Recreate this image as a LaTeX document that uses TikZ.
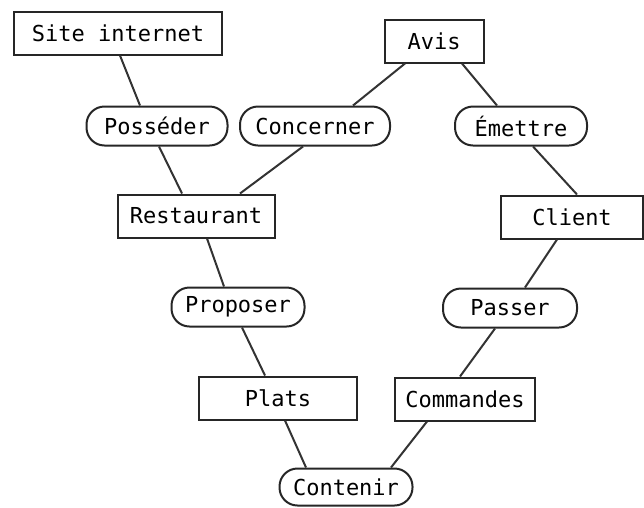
\documentclass[tikz,border=0pt]{standalone}
\usepackage{fontspec}
\setmonofont{DejaVu Sans Mono}
\usepackage{tikz}
\usetikzlibrary{positioning}

\begin{document}
\begin{tikzpicture}[
    x=1pt, y=-1pt,
    every node/.style={font=\ttfamily\fontsize{22}{26}\selectfont, inner sep=0pt},
    entityBox/.style={rectangle, draw=black!85, line width=2pt, minimum height=43pt},
    relationBox/.style={rectangle, rounded corners=18pt, draw=black!85, line width=2pt, minimum height=39pt},
    link/.style={draw=black!80, line width=2pt}
]
    \useasboundingbox (0,0) rectangle (644,507);

    % Entities
    \node[entityBox, minimum width=208pt] (site) at (118,33) {Site internet};
    \node[entityBox, minimum width=99pt] (avis) at (434,41) {Avis};
    \node[entityBox, minimum width=157pt] (restaurant) at (196,216) {Restaurant};
    \node[entityBox, minimum width=142pt] (client) at (572,217) {Client};
    \node[entityBox, minimum width=158pt] (plats) at (278,398) {Plats};
    \node[entityBox, minimum width=140pt] (commandes) at (465,399) {Commandes};

    % Relations
    \node[relationBox, minimum width=141pt] (posseder) at (157,126) {Posséder};
    \node[relationBox, minimum width=150pt] (concerner) at (315,126) {Concerner};
    \node[relationBox, minimum width=132pt] (emettre) at (521,126) {Émettre};
    \node[relationBox, minimum width=133pt] (proposer) at (238,307) {Proposer};
    \node[relationBox, minimum width=134pt] (passer) at (510,308) {Passer};
    \node[relationBox, minimum width=133pt, minimum height=37pt] (contenir) at (346,487) {Contenir};

    % Links
    \draw[link] ([xshift=2pt]site.south) -- ([xshift=-17pt]posseder.north);
    \draw[link] ([xshift=2pt]posseder.south) -- ([xshift=-14pt]restaurant.north);
    \draw[link] ([xshift=-12pt]concerner.south) -- ([xshift=44pt]restaurant.north);
    \draw[link] ([xshift=-29pt]avis.south) -- ([xshift=38pt]concerner.north);
    \draw[link] ([xshift=28pt]avis.south) -- ([xshift=-24pt]emettre.north);
    \draw[link] ([xshift=12pt]emettre.south) -- ([xshift=5pt]client.north);
    \draw[link] ([xshift=-15pt]client.south) -- ([xshift=15pt]passer.north);
    \draw[link] ([xshift=-15pt]passer.south) -- ([xshift=-5pt]commandes.north);
    \draw[link] ([xshift=11pt]restaurant.south) -- ([xshift=-14pt]proposer.north);
    \draw[link] ([xshift=4pt]proposer.south) -- ([xshift=-13pt]plats.north);
    \draw[link] ([xshift=7pt]plats.south) -- ([xshift=-40pt]contenir.north);
    \draw[link] ([xshift=-38pt]commandes.south) -- ([xshift=45pt]contenir.north);
\end{tikzpicture}
\end{document}
